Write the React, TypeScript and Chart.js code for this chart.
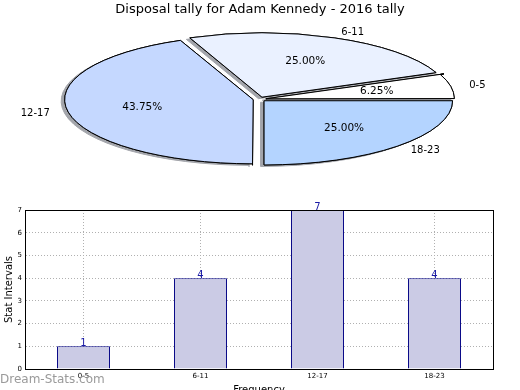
import React, { useEffect, useRef } from 'react';
import { Chart, registerables } from 'chart.js';

Chart.register(...registerables);

const chartTitle = 'Disposal tally for Adam Kennedy - 2016 tally';
const categories = ['0-5', '6-11', '12-17', '18-23'];
const tallies = [1, 4, 7, 4];
const sliceColors = ['#ffffff', '#eaf1ff', '#c5d8ff', '#b4d4ff'];
const yTickValues = [0, 1, 2, 3, 4, 5, 6, 7];
const xAxisTitle = 'Frequency';
const yAxisTitle = 'Stat Intervals';
const watermark = 'Dream-Stats.com';

const FONT = "'DejaVu Sans', 'Liberation Sans', sans-serif";
Chart.defaults.font.family = FONT;
Chart.defaults.color = '#000';

// matplotlib lays wedges counter-clockwise from 3 o'clock; Chart.js goes clockwise -> reverse order
const pieIndex = [3, 2, 1, 0];

const ELLIPSE = { cx: 259.5, cy: 99.2, rx: 188.5, ry: 64.2 };

function pieGeom(chart: any) {
  const meta = chart.getDatasetMeta(0);
  const el0 = meta.data[0];
  const r = el0.outerRadius;
  return { meta, x0: el0.x, y0: el0.y, r, sx: ELLIPSE.rx / r, sy: ELLIPSE.ry / r };
}

const ellipsePie = {
  id: 'ellipsePie',
  beforeDatasetsDraw(chart: any) {
    const { meta, x0, y0, r, sx, sy } = pieGeom(chart);
    const ctx: any = chart.ctx;
    const proto: any = CanvasRenderingContext2D.prototype;
    const mx = (x: number) => ELLIPSE.cx + (x - x0) * sx;
    const my = (y: number) => ELLIPSE.cy + (y - y0) * sy;
    ctx.arc = function (x: number, y: number, rad: number, a0: number, a1: number, ccw?: boolean) {
      const rr = rad > 0 ? r : 0;
      proto.ellipse.call(this, mx(x), my(y), rr * sx, rr * sy, 0, a0, a1, !!ccw);
    };
    ctx.moveTo = function (x: number, y: number) { proto.moveTo.call(this, mx(x), my(y)); };
    ctx.lineTo = function (x: number, y: number) { proto.lineTo.call(this, mx(x), my(y)); };
    ctx.translate = function (dx: number, dy: number) { proto.translate.call(this, dx * sx, dy * sy); };
    // shadow pass, underneath every wedge
    ctx.save();
    ctx.shadowColor = '#a3a5ab';
    ctx.shadowOffsetX = -3.5;
    ctx.shadowOffsetY = 1.5;
    ctx.shadowBlur = 0;
    meta.data.forEach((el: any) => el.draw(ctx));
    ctx.restore();
  },
  afterDatasetsDraw(chart: any) {
    const ctx: any = chart.ctx;
    delete ctx.arc;
    delete ctx.moveTo;
    delete ctx.lineTo;
    delete ctx.translate;
  },
  afterDraw(chart: any) {
    const { meta, r, sx, sy } = pieGeom(chart);
    const ctx = chart.ctx;
    const total = tallies.reduce((a, b) => a + b, 0);
    ctx.save();
    ctx.fillStyle = '#000';
    ctx.textBaseline = 'middle';
    meta.data.forEach((el: any, j: number) => {
      const i = pieIndex[j];
      const half = (el.startAngle + el.endAngle) / 2;
      const off = (el.options.offset || 0) / 4;
      const c = Math.cos(half);
      const s = Math.sin(half);
      const px = (k: number) => ELLIPSE.cx + c * (off + k * r) * sx;
      const py = (k: number) => ELLIPSE.cy + s * (off + k * r) * sy;
      ctx.font = `10.5px ${FONT}`;
      ctx.textAlign = 'center';
      ctx.fillText(((tallies[i] / total) * 100).toFixed(2) + '%', px(0.6), py(0.6));
      ctx.font = `10px ${FONT}`;
      ctx.textAlign = c > 0 ? 'left' : 'right';
      ctx.fillText(categories[i], px(1.1), py(1.1));
    });
    ctx.restore();
  },
};

const barExtras = {
  id: 'barExtras',
  afterDraw(chart: any) {
    const ctx = chart.ctx;
    const a = chart.chartArea;
    ctx.save();
    ctx.strokeStyle = '#000';
    ctx.lineWidth = 1;
    ctx.strokeRect(a.left + 0.5, a.top + 0.5, a.right - a.left, a.bottom - a.top);
    const meta = chart.getDatasetMeta(0);
    ctx.fillStyle = '#1a1aa6';
    ctx.font = `10px ${FONT}`;
    ctx.textAlign = 'center';
    ctx.textBaseline = 'alphabetic';
    meta.data.forEach((el: any, i: number) => {
      ctx.fillText(String(tallies[i]), el.x, el.y);
    });
    ctx.fillStyle = '#9a9a9a';
    ctx.font = `12px ${FONT}`;
    ctx.textAlign = 'left';
    ctx.fillText(watermark, 0, 183);
    ctx.restore();
  },
};

export default function App() {
  const pieRef = useRef<HTMLCanvasElement>(null);
  const barRef = useRef<HTMLCanvasElement>(null);

  useEffect(() => {
    const pie = new Chart(pieRef.current as HTMLCanvasElement, {
      type: 'pie',
      data: {
        labels: pieIndex.map((i) => categories[i]),
        datasets: [
          {
            data: pieIndex.map((i) => tallies[i]),
            backgroundColor: pieIndex.map((i) => sliceColors[i]),
            borderColor: '#000',
            borderWidth: 1,
            offset: 11,
            clip: false,
          } as any,
        ],
      },
      options: {
        responsive: false,
        animation: false,
        events: [],
        rotation: 90,
        plugins: {
          legend: { display: false },
          tooltip: { enabled: false },
          title: {
            display: true,
            text: chartTitle,
            color: '#000',
            font: { size: 13, family: FONT, weight: 'normal' as any },
            padding: { top: 2, bottom: 10 },
          },
        },
      } as any,
      plugins: [ellipsePie],
    });

    const bar = new Chart(barRef.current as HTMLCanvasElement, {
      type: 'bar',
      data: {
        labels: categories,
        datasets: [
          {
            data: tallies,
            backgroundColor: '#cbcbe5',
            borderColor: '#0a0a88',
            borderWidth: 1,
            barPercentage: 53 / 117,
            categoryPercentage: 1,
          },
        ],
      },
      options: {
        responsive: false,
        animation: false,
        events: [],
        layout: { padding: { top: 10, right: 27, left: 0, bottom: 0 } },
        plugins: { legend: { display: false }, tooltip: { enabled: false } },
        scales: {
          x: {
            z: 1,
            grid: { offset: false, color: '#b0b0b0', drawTicks: false, lineWidth: 1 },
            border: { display: true, color: '#000', dash: [1, 2] },
            ticks: { font: { size: 7, family: FONT }, color: '#000', padding: 3 },
            title: {
              display: true,
              text: xAxisTitle,
              color: '#000',
              font: { size: 10, family: FONT },
              padding: { top: 0, bottom: 4 },
            },
            afterFit: (s: any) => { s.height = 31; },
          },
          y: {
            min: 0,
            max: 7,
            afterBuildTicks: (s: any) => { s.ticks = yTickValues.map((v) => ({ value: v })); },
            grid: { color: '#b0b0b0', drawTicks: false, lineWidth: 1 },
            border: { display: true, color: '#000', dash: [1, 2] },
            ticks: { font: { size: 7, family: FONT }, color: '#000', padding: 3 },
            title: {
              display: true,
              text: yAxisTitle,
              color: '#000',
              font: { size: 10, family: FONT },
              padding: { top: 3, bottom: 0 },
            },
            afterFit: (s: any) => { s.width = 25; },
          },
        },
      } as any,
      plugins: [barExtras],
    });

    return () => {
      pie.destroy();
      bar.destroy();
    };
  }, []);

  return (
    <div
      style={{
        position: 'fixed',
        left: 0,
        top: 0,
        width: 520,
        height: 390,
        overflow: 'hidden',
        background: '#fff',
      }}
    >
      <canvas ref={pieRef} width={520} height={200} style={{ position: 'absolute', left: 0, top: 0 }} />
      <canvas ref={barRef} width={520} height={200} style={{ position: 'absolute', left: 0, top: 200 }} />
    </div>
  );
}
